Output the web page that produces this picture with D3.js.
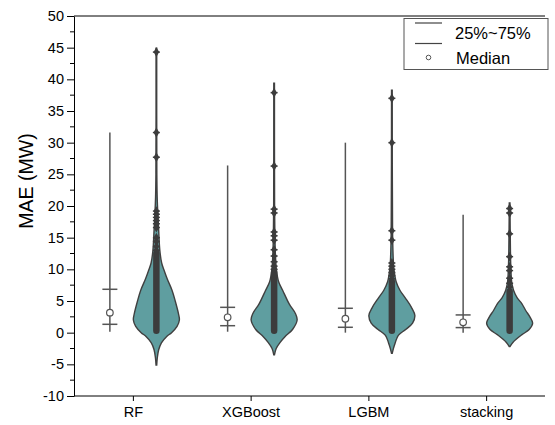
<!DOCTYPE html>
<html><head><meta charset="utf-8">
<script src="https://cdn.jsdelivr.net/npm/d3@7"></script>
<style>body{margin:0;background:#fff}svg{display:block;font-family:"Liberation Sans",Arial,sans-serif}</style>
</head><body><svg id="c" width="555" height="425"></svg>
<script>
const categories = ["RF", "XGBoost", "LGBM", "stacking"];
const yTicks = [-10, -5, 0, 5, 10, 15, 20, 25, 30, 35, 40, 45, 50];
// box stats: [min, Q1, median, Q3, max]
const boxRF = [0.15, 1.32, 3.16, 6.85, 31.6];
const boxXGB = [0.15, 1.1, 2.43, 4.0, 26.4];
const boxLGBM = [0.0, 0.85, 2.2, 3.85, 30.0];
const boxStack = [0.0, 0.8, 1.64, 2.8, 18.6];
// violin profiles: [MAE, relative density]
const violinRF = [[-5.1,0.015],[-4,0.04],[-2.7,0.1],[-1.6,0.22],[-0.6,0.45],[0,0.66],[1,0.9],[2,1.0],[3,0.96],[5,0.82],[6.7,0.68],[8.5,0.47],[9.8,0.34],[11,0.23],[13,0.15],[16.2,0.1],[19,0.06],[21.4,0.035],[25,0.02],[44.9,0.015]];
const violinXGB = [[-3.5,0.015],[-2.5,0.09],[-1.5,0.27],[-0.6,0.48],[0.5,0.8],[2,1.0],[3,0.93],[4.5,0.66],[6.7,0.37],[8,0.2],[9.9,0.1],[12,0.06],[15,0.035],[20,0.02],[39.4,0.015]];
const violinLGBM = [[-3.25,0.015],[-2,0.11],[-0.4,0.29],[0.5,0.6],[1.5,0.9],[2.7,1.0],[4,0.85],[5.5,0.58],[6.7,0.35],[8,0.19],[10,0.09],[12,0.055],[16,0.03],[38.3,0.015]];
const violinStack = [[-2.2,0.015],[-1.5,0.15],[-0.35,0.52],[0.5,0.85],[1.5,1.0],[2.5,0.88],[3.5,0.7],[4.6,0.53],[5.5,0.33],[6.7,0.17],[8,0.09],[10,0.055],[13,0.035],[20.5,0.015]];
// dense point column [low, high]
const denseRF = [0, 12.5];
const denseXGB = [0, 9.5];
const denseLGBM = [0, 8];
const denseStack = [0, 6.5];
// individual points above the dense column
const pointsRF = [44.3, 31.6, 27.7, 19.2, 18.7, 18.2, 17.7, 17.2, 16.6, 15.0, 14.4, 13.6, 13.0];
const pointsXGB = [37.9, 26.3, 19.5, 18.9, 15.9, 15.3, 14.6, 13.1, 12.1, 11.2, 10.5, 10.0];
const pointsLGBM = [37.0, 30.0, 16.1, 14.6, 11.0, 10.5, 10.0, 9.5, 9.0, 8.5];
const pointsStack = [19.6, 18.9, 15.6, 12.0, 10.4, 9.8, 8.6, 7.8, 7.2];

const boxes = [boxRF, boxXGB, boxLGBM, boxStack];
const violins = [violinRF, violinXGB, violinLGBM, violinStack];
const denses = [denseRF, denseXGB, denseLGBM, denseStack];
const points = [pointsRF, pointsXGB, pointsLGBM, pointsStack];

const svg = d3.select("#c");
const L = 74, R = 545, T = 16, B = 396;
const x = d3.scalePoint().domain(categories).range([L, R]).padding(0.5);
const y = d3.scaleLinear().domain([-10, 50]).range([B, T]);
const w = d3.scaleLinear().domain([0, 1]).range([0, 23]);
const boxOff = -23, vioOff = 23.5;

// y axis
const yAxis = d3.axisLeft(y).tickValues(yTicks).tickFormat(d => String(d)).tickSize(7).tickPadding(3).tickSizeOuter(0);
const gy = svg.append("g").attr("transform", `translate(${L},0)`).call(yAxis);
gy.selectAll("text").attr("font-size", 14.5).attr("fill", "#000").attr("font-family", "Liberation Sans, Arial, sans-serif");
gy.select(".domain").attr("stroke", "#000");
gy.selectAll(".tick line").attr("stroke", "#000");
const minor = d3.range(-7.5, 50, 5);
svg.append("g").selectAll("line").data(minor).join("line")
  .attr("x1", L - 4).attr("x2", L).attr("y1", d => y(d)).attr("y2", d => y(d)).attr("stroke", "#000");

// x axis
const xAxis = d3.axisBottom(x).tickSize(5).tickPadding(6).tickSizeOuter(0);
const gx = svg.append("g").attr("transform", `translate(0,${B})`).call(xAxis);
gx.selectAll("text").attr("font-size", 14.5).attr("fill", "#000").attr("font-family", "Liberation Sans, Arial, sans-serif");
gx.select(".domain").attr("stroke", "#000").attr("d", `M${L},0H${R}`);
gx.selectAll(".tick line").attr("stroke", "#000");

// top border
svg.append("line").attr("x1", L).attr("x2", R).attr("y1", T).attr("y2", T).attr("stroke", "#000");

// y title
svg.append("text").attr("transform", "translate(33,181) rotate(-90)").attr("text-anchor", "middle")
  .attr("font-size", 19.5).text("MAE (MW)");

const area = d3.area().curve(d3.curveCatmullRom.alpha(0.5));

categories.forEach((c, i) => {
  const cx = x(c);
  const bx = cx + boxOff, vx = cx + vioOff;
  const b = boxes[i];
  const g = svg.append("g");
  g.append("line").attr("x1", bx).attr("x2", bx).attr("y1", y(b[0])).attr("y2", y(b[4])).attr("stroke", "#555").attr("stroke-width", 1.5);
  [b[1], b[3]].forEach(v => g.append("line").attr("x1", bx - 7.5).attr("x2", bx + 7.5).attr("y1", y(v)).attr("y2", y(v)).attr("stroke", "#555").attr("stroke-width", 1.5));
  g.append("circle").attr("cx", bx).attr("cy", y(b[2])).attr("r", 3.3).attr("fill", "#fff").attr("stroke", "#555").attr("stroke-width", 1.2);

  const a = area.y(d => y(d[0])).x0(d => vx - w(d[1])).x1(d => vx + w(d[1]));
  svg.append("path").datum(violins[i]).attr("d", a).attr("fill", "#5f9ea0").attr("stroke", "#404040").attr("stroke-width", 1.4);
  const dn = denses[i];
  svg.append("line").attr("x1", vx).attr("x2", vx).attr("y1", y(dn[0]) - 2).attr("y2", y(dn[1])).attr("stroke", "#3c3c3c").attr("stroke-width", 6.5).attr("stroke-linecap", "round");
  svg.append("g").selectAll("path").data(points[i]).join("path")
    .attr("transform", d => `translate(${vx},${y(d)})`)
    .attr("d", d3.symbol(d3.symbolDiamond, 28))
    .attr("fill", "#3c3c3c");
  svg.append("g").selectAll("line").data(points[i]).join("line")
    .attr("x1", vx - 3.5).attr("x2", vx + 3.5).attr("y1", d => y(d)).attr("y2", d => y(d))
    .attr("stroke", "#3c3c3c").attr("stroke-width", 1.5);
});

// legend
const lg = svg.append("g");
lg.append("rect").attr("x", 404).attr("y", 18.5).attr("width", 144).attr("height", 51).attr("fill", "#fff").attr("stroke", "#555").attr("stroke-width", 1);
lg.append("line").attr("x1", 415).attr("x2", 442).attr("y1", 23).attr("y2", 23).attr("stroke", "#444").attr("stroke-width", 1.2);
lg.append("line").attr("x1", 415).attr("x2", 442).attr("y1", 43.5).attr("y2", 43.5).attr("stroke", "#444").attr("stroke-width", 1.2);
lg.append("text").attr("x", 455).attr("y", 39).attr("font-size", 16.5).text("25%~75%");
lg.append("circle").attr("cx", 428.5).attr("cy", 57.5).attr("r", 2.3).attr("fill", "#fff").attr("stroke", "#555").attr("stroke-width", 1);
lg.append("text").attr("x", 456).attr("y", 63.5).attr("font-size", 16.5).text("Median");
</script></body></html>
